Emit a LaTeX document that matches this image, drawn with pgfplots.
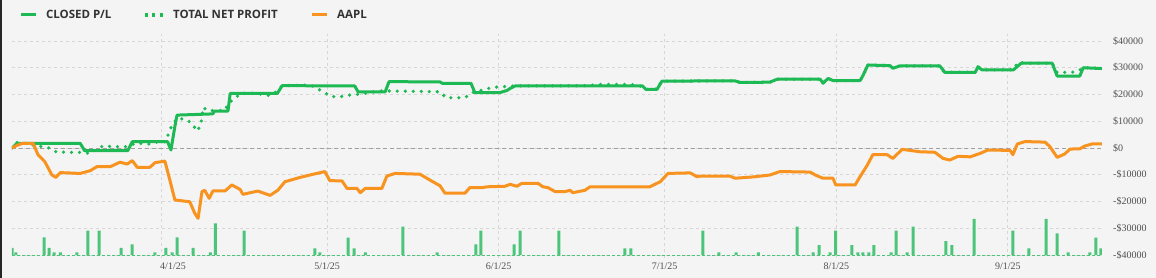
\documentclass[border=0pt]{standalone}
\usepackage{fontspec}
\setmainfont{Liberation Serif}
\newfontfamily\legfont{Open Sans}
\usepackage{pgfplots}
\pgfplotsset{compat=1.18}
\definecolor{bg}{HTML}{F4F4F4}
\definecolor{plgreen}{HTML}{1DB954}
\definecolor{aaplorange}{HTML}{F7931E}
\definecolor{bargreen}{HTML}{4CC57A}
\definecolor{gridgray}{HTML}{D6D6D6}
\definecolor{zerogray}{HTML}{A0A0A0}
\definecolor{ticktext}{HTML}{505050}
\definecolor{legtext}{HTML}{333333}
\begin{document}
\begin{tikzpicture}
\fill[bg] (0,0) rectangle (1156pt,278pt);
\fill[black!85] (0,0) rectangle (2pt,278pt);
\useasboundingbox (0,0) rectangle (1156pt,278pt);
\begin{axis}[
  at={(12pt,20.3pt)}, anchor=south west,
  scale only axis, width=1090pt, height=223.4pt,
  xmin=64.08, xmax=261.0, ymin=-41000, ymax=42500,
  scaled y ticks=false, scaled x ticks=false,
  axis line style={draw=none},
  tick style={draw=none},
  xtick={91,121,152,182,213,244},
  xticklabels={\hspace*{24pt}4/1/25,5/1/25,6/1/25,7/1/25,8/1/25,9/1/25},
  ytick={-40000,-30000,...,40000},
  yticklabels={-\$40000,-\$30000,-\$20000,-\$10000,\$0,\$10000,\$20000,\$30000,\$40000},
  yticklabel pos=right,
  grid=major,
  major grid style={gridgray, line width=0.8pt, dash pattern=on 3pt off 3pt},
  ticklabel style={font=\fontsize{10pt}{12pt}\selectfont, text=ticktext},
  yticklabel style={anchor=west, inner xsep=0pt, xshift=11pt},
  xticklabel style={anchor=north, inner ysep=0pt, yshift=-5pt},
  extra y ticks={0}, extra y tick labels={},
  extra y tick style={major grid style={zerogray, line width=0.8pt, dash pattern=on 4pt off 3pt}},
  legend columns=3,
  legend style={at={(axis description cs:0.00642,1.0864)}, anchor=west, draw=none, fill=none,
    inner sep=0pt, outer sep=0pt, column sep=0pt,
    nodes={inner sep=0pt, text=legtext, font=\legfont\bfseries\fontsize{11.5pt}{13pt}\selectfont},
    /tikz/every odd column/.append style={column sep=9pt}},
  legend image code/.code={\draw[#1] (0pt,0pt) -- (15pt,0pt);},
]
\addplot[plgreen, line width=3pt, line join=round] coordinates {
(64.1,0) (64.6,1000) (65.0,1750) (76.4,1750) (77.2,-1000) (85.0,-1000) (85.8,2350) (92.2,2350)
(92.8,-750) (93.5,8000) (93.9,12300) (99.7,12700) (100.4,12800) (100.6,13800) (103.1,13800)
(103.5,20400) (112.0,20400) (112.9,23300) (126.0,23200) (126.6,21000) (131.5,21000) (132.2,24800)
(141.4,24700) (141.8,24200) (147.0,24200) (147.7,20700) (152.2,20700) (153.5,21500) (154.1,22300)
(155.0,23200) (178.0,23200) (178.6,21900) (180.6,21900) (181.5,25000) (194.7,25100) (195.6,24500)
(201.0,24600) (202.3,25700) (210.1,25700) (210.6,24200) (211.5,26000) (212.4,25200) (217.3,25200)
(217.8,27000) (218.7,31000) (222.7,30800) (223.2,29800) (224.5,30700) (231.7,30700) (232.6,28300)
(238.1,28300) (238.6,30400) (239.3,29200) (245.0,29200) (246.4,31700) (252.0,31700) (252.9,26900)
(257.0,26900) (257.6,30000) (261.0,29700)
};
\addlegendentry{\makebox[97pt][l]{CLOSED P/L}}
\addplot[plgreen, line width=3.6pt, line cap=round, dash pattern=on 0pt off 8pt,
  legend image code/.code={\draw[plgreen, line width=3.2pt, line cap=butt, dash pattern=on 3pt off 4.8pt] (-1.5pt,0pt) -- (16.5pt,0pt);}] coordinates {
(64.1,0) (64.8,2100) (66.5,1700) (69.5,500) (70.8,0) (72.3,-1700) (73.8,-1500) (75.4,-1700)
(76.8,-1600) (78.0,-2000) (79.4,-500) (80.5,750) (82.2,500) (84.7,500) (86.5,1800) (88.8,1500)
(90.5,2300) (91.8,2300) (92.4,5500) (92.9,8200) (93.9,11100) (95.5,10700) (96.6,9200) (97.5,6300)
(98.2,8600) (98.6,15200) (99.4,14000) (102.5,14000) (103.2,16700) (104.3,18600) (105.5,20400)
(108.5,20400) (110.2,19600) (111.3,20100) (112.9,23300) (118.0,23500) (119.4,22000) (120.5,20800)
(121.7,19200) (123.5,19200) (125.0,19800) (126.4,20000) (128.5,20700) (130.6,21300) (133.0,21300)
(139.0,21100) (141.4,21000) (142.5,18800) (145.9,18800) (147.2,20700) (149.5,21900) (151.0,22700)
(155.0,23200) (168.0,23300) (170.5,23800) (175.8,23800) (177.5,23200) (178.6,21900) (180.6,22000)
(181.5,25000) (194.7,25100) (195.6,24500) (201.0,24600) (202.3,25700) (210.1,25700) (210.6,24200)
(211.5,26000) (212.4,25200) (217.3,25200) (217.8,27000) (218.7,31000) (222.7,30800) (223.2,29800)
(224.5,30700) (231.7,30700) (232.2,28800) (233.0,28300) (238.1,28300) (238.6,30400) (239.3,29200)
(245.0,29200) (245.8,32000) (247.1,31700) (252.0,31700) (252.9,28200) (256.4,28400) (257.6,30000)
(261.0,29700)
};
\addlegendentry{\makebox[137pt][l]{TOTAL NET PROFIT}}
\addplot[aaplorange, line width=3pt, line join=round] coordinates {
(64.1,0) (65.0,1000) (66.0,1750) (67.9,1750) (68.8,-2600) (70.0,-5100) (71.3,-10100) (72.0,-11000)
(72.8,-9200) (76.4,-9500) (78.2,-8500) (79.4,-7000) (81.8,-7000) (83.6,-5300) (84.9,-6000) (85.8,-4700)
(86.7,-7200) (89.0,-7200) (89.9,-5500) (91.7,-4900) (92.6,-12000) (93.5,-19400) (96.2,-20100)
(97.1,-24400) (97.7,-26300) (98.4,-16300) (98.9,-15800) (99.7,-18800) (100.4,-16000) (102.6,-16000)
(103.8,-13800) (105.3,-15500) (105.8,-17300) (108.5,-16100) (110.7,-17700) (112.1,-15800)
(113.4,-12600) (116.1,-11000) (117.9,-10100) (120.6,-8800) (121.5,-12200) (123.7,-12300)
(124.6,-15100) (126.4,-15100) (127.0,-16700) (127.9,-15100) (130.9,-15100) (131.8,-10500)
(133.3,-9500) (137.8,-9800) (139.6,-12000) (141.4,-14100) (142.3,-16900) (145.9,-16900)
(146.8,-14800) (149.0,-14800) (149.9,-14500) (153.1,-14300) (154.1,-13600) (155.3,-14300)
(156.2,-13200) (159.1,-13200) (160.0,-14500) (160.9,-14800) (162.2,-16300) (164.0,-16300)
(164.9,-15800) (165.4,-16700) (167.6,-15800) (168.5,-14500) (179.3,-14500) (181.2,-12600)
(182.6,-9500) (186.6,-9300) (187.8,-10700) (188.4,-10500) (193.8,-10500) (194.7,-11300)
(198.0,-10800) (201.0,-10100) (202.8,-8800) (208.3,-9000) (209.2,-10100) (210.6,-11300)
(212.4,-11300) (212.9,-13800) (216.4,-13800) (217.3,-10700) (218.6,-6400) (219.6,-2500)
(222.2,-2500) (223.2,-3900) (224.9,-500) (228.1,-1400) (230.8,-1600) (232.3,-3900) (233.5,-4500)
(235.0,-3100) (237.2,-3300) (239.0,-2000) (240.4,-750) (244.4,-900) (244.9,-2500) (245.7,1500)
(247.1,2400) (250.7,2200) (251.6,500) (252.9,-3500) (254.3,-2200) (255.2,-400) (257.0,-300)
(257.9,750) (259.2,1500) (261.0,1500)
};
\addlegendentry{AAPL}
\end{axis}
\begin{axis}[
  at={(12pt,20.3pt)}, anchor=south west,
  scale only axis, width=1090pt, height=223.4pt,
  xmin=64.08, xmax=261.0, ymin=-1000, ymax=82500,
  hide axis,
]
\addplot[bargreen, line width=0.8pt, dash pattern=on 3pt off 2pt] coordinates {(64.08,0) (261.0,0)};
\addplot[ybar, bar width=3pt, fill=bargreen, draw=none] coordinates {
(64.1,2700) (64.8,1000) (69.9,6600) (70.8,2700) (71.7,1000) (72.8,1000) (75.8,1000) (77.8,9100)
(79.8,9100) (83.8,2700) (85.8,4000) (89.9,1000) (91.9,2700) (93.0,1000) (93.9,6600) (96.8,2700)
(99.9,1000) (100.8,11800) (106.0,9100)
(118.8,2500) (119.7,1000) (124.8,6500) (125.9,2500) (127.9,1000) (134.7,10600) (140.9,1000)
(147.9,4000) (148.8,9100) (154.8,4000) (155.9,9100) (162.9,9100) (174.8,2500) (175.9,2500)
(188.9,9100) (191.8,1000) (194.9,1000) (198.9,1000) (205.9,10600) (208.8,1000) (209.9,3700)
(211.9,1000) (212.9,9100) (215.8,3700) (216.9,1000) (217.8,1000) (218.9,1000) (219.8,3700)
(222.9,1000) (223.8,9100) (225.8,1000) (226.9,10600) (232.8,5200) (233.9,3700) (237.9,13500)
(244.9,9100) (247.8,2500) (250.9,13500) (252.9,8100) (254.9,1000) (258.8,1000) (259.9,6500)
(260.8,2500)
};
\end{axis}
\end{tikzpicture}
\end{document}
